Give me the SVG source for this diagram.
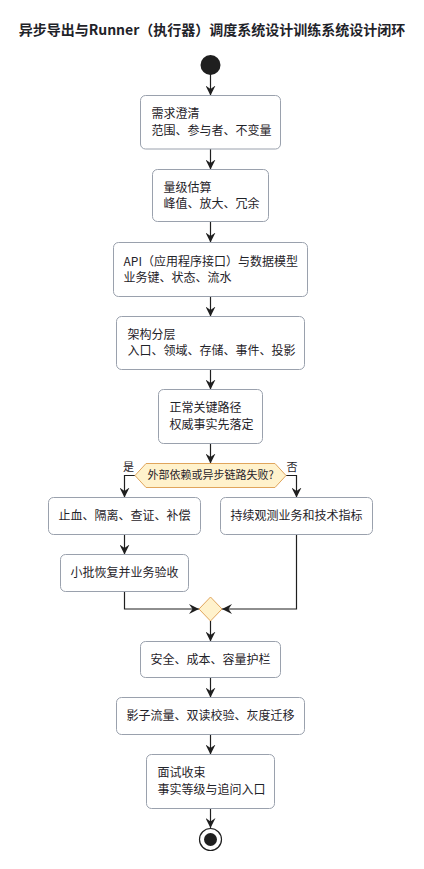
<svg xmlns="http://www.w3.org/2000/svg" width="424" height="869" viewBox="0 0 424 869">
<defs>
<style>
text{font-family:"Noto Sans CJK SC","Noto Sans",sans-serif;fill:#1f2329;}
.title{font-size:14px;font-weight:bold;}
.t{font-size:12px;}
.c{text-anchor:middle;}
.lbl{font-size:11px;}
.box{fill:#ffffff;stroke:#9aa1ad;stroke-width:1;}
.dec{fill:#fff2cc;stroke:#e0a55c;stroke-width:1;}
.edge{fill:none;stroke:#1f1f1f;stroke-width:1.2;}
</style>
<marker id="arr" viewBox="0 0 10 10" refX="10" refY="5" markerWidth="10" markerHeight="10" markerUnits="userSpaceOnUse" orient="auto">
<path d="M0,0 L10,5 L0,10 L3.5,5 Z" fill="#1f1f1f"/>
</marker>
</defs>
<rect width="424" height="869" fill="#ffffff"/>
<text class="title c" x="212" y="35">异步导出与Runner（执行器）调度系统设计训练系统设计闭环</text>

<g id="connectors">
<path class="edge" d="M210.5,74 V95.5" marker-end="url(#arr)"/>
<path class="edge" d="M210.5,149 V169.5" marker-end="url(#arr)"/>
<path class="edge" d="M210.5,221.5 V242.5" marker-end="url(#arr)"/>
<path class="edge" d="M210.5,296.5 V316.5" marker-end="url(#arr)"/>
<path class="edge" d="M210.5,369.5 V389.5" marker-end="url(#arr)"/>
<path class="edge" d="M210.5,443.5 V463.5" marker-end="url(#arr)"/>
<path class="edge" d="M135,475.5 H124.5 V497.5" marker-end="url(#arr)"/>
<path class="edge" d="M286,475.5 H296.5 V497.5" marker-end="url(#arr)"/>
<path class="edge" d="M124.5,534.5 V554.5" marker-end="url(#arr)"/>
<path class="edge" d="M124.5,591.5 V609 H199" marker-end="url(#arr)"/>
<path class="edge" d="M296.5,534.5 V609 H222" marker-end="url(#arr)"/>
<path class="edge" d="M210.5,621 V641.5" marker-end="url(#arr)"/>
<path class="edge" d="M210.5,677.5 V697.5" marker-end="url(#arr)"/>
<path class="edge" d="M210.5,734.5 V754.5" marker-end="url(#arr)"/>
<path class="edge" d="M210.5,808.5 V828" marker-end="url(#arr)"/>
<text class="lbl" x="123" y="471">是</text>
<text class="lbl" x="286.5" y="471">否</text>
</g>

<g id="start"><circle cx="210.5" cy="65" r="10" fill="#1f1f1f"/></g>

<g id="n1"><rect class="box" x="140.5" y="95.5" width="140" height="53.5" rx="5"/>
<text class="t" x="151.5" y="117.5">需求澄清</text><text class="t" x="151.5" y="134.5">范围、参与者、不变量</text></g>

<g id="n2"><rect class="box" x="152.5" y="169.5" width="116" height="52" rx="5"/>
<text class="t" x="163.5" y="191.5">量级估算</text><text class="t" x="163.5" y="208">峰值、放大、冗余</text></g>

<g id="n3"><rect class="box" x="113.5" y="242.5" width="194" height="54" rx="5"/>
<text class="t" x="123.5" y="265.5">API（应用程序接口）与数据模型</text><text class="t" x="123.5" y="282">业务键、状态、流水</text></g>

<g id="n4"><rect class="box" x="116.5" y="316.5" width="188" height="53" rx="5"/>
<text class="t" x="127.5" y="338.5">架构分层</text><text class="t" x="127.5" y="355">入口、领域、存储、事件、投影</text></g>

<g id="n5"><rect class="box" x="158.5" y="389.5" width="104" height="54" rx="5"/>
<text class="t" x="169.5" y="412">正常关键路径</text><text class="t" x="169.5" y="429">权威事实先落定</text></g>

<g id="d1"><polygon class="dec" points="135,475.5 146,463.5 275,463.5 286,475.5 275,487.5 146,487.5"/>
<text class="lbl c" x="210.5" y="479">外部依赖或异步链路失败?</text></g>

<g id="n6"><rect class="box" x="48.5" y="497.5" width="152" height="37" rx="5"/>
<text class="t c" x="124.5" y="520">止血、隔离、查证、补偿</text></g>

<g id="n7"><rect class="box" x="220.5" y="497.5" width="152" height="37" rx="5"/>
<text class="t c" x="296.5" y="520">持续观测业务和技术指标</text></g>

<g id="n8"><rect class="box" x="60.5" y="554.5" width="128" height="37" rx="5"/>
<text class="t c" x="124.5" y="577">小批恢复并业务验收</text></g>

<g id="merge"><polygon class="dec" points="210.5,597 222,609 210.5,621 199,609"/></g>

<g id="n9"><rect class="box" x="140.5" y="641.5" width="140" height="36" rx="5"/>
<text class="t c" x="210.5" y="663.5">安全、成本、容量护栏</text></g>

<g id="n10"><rect class="box" x="116.5" y="697.5" width="188" height="37" rx="5"/>
<text class="t c" x="210.5" y="720">影子流量、双读校验、灰度迁移</text></g>

<g id="n11"><rect class="box" x="146.5" y="754.5" width="128" height="54" rx="5"/>
<text class="t" x="157.5" y="777">面试收束</text><text class="t" x="157.5" y="793.5">事实等级与追问入口</text></g>

<g id="end"><circle cx="210.5" cy="839.5" r="11" fill="#ffffff" stroke="#1f1f1f" stroke-width="1.2"/><circle cx="210.5" cy="839.5" r="6.5" fill="#1f1f1f"/></g>
</svg>
